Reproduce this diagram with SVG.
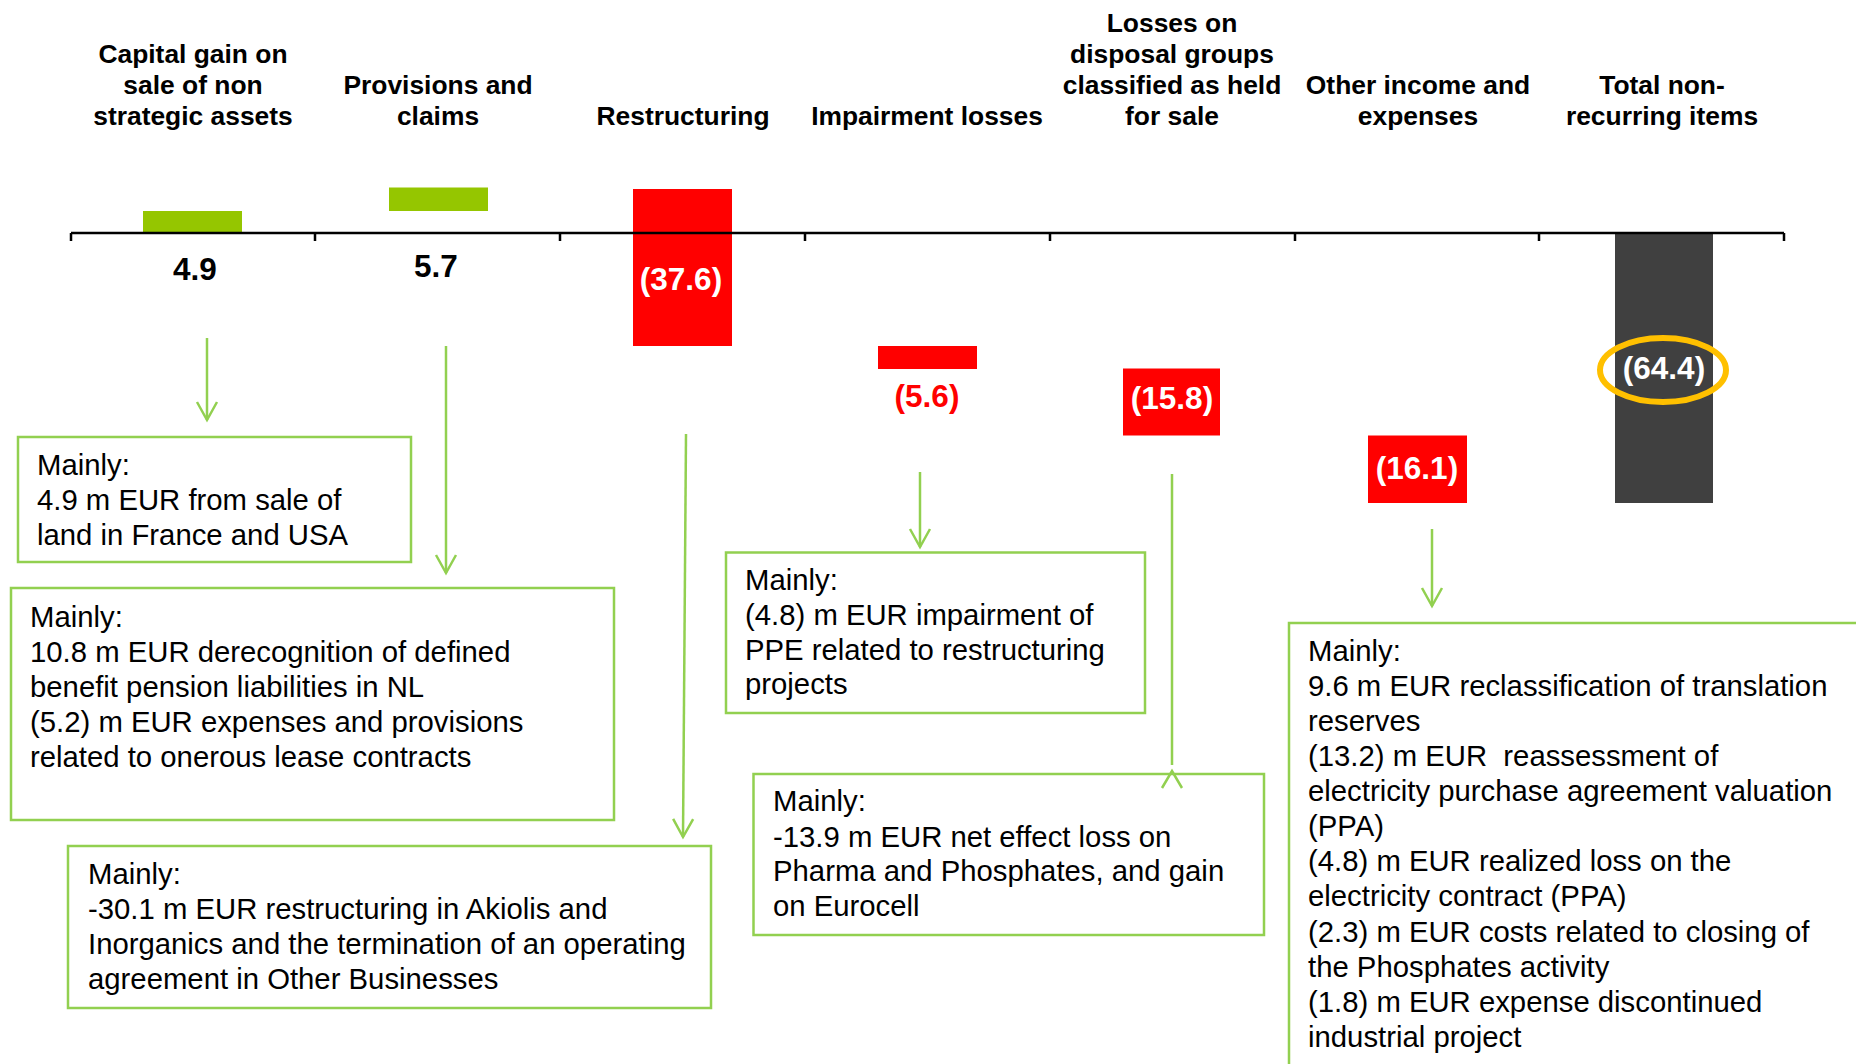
<svg xmlns="http://www.w3.org/2000/svg" width="1856" height="1064" viewBox="0 0 1856 1064">
<style>
.hd{font-family:"Liberation Sans",Arial,sans-serif;font-weight:bold;font-size:26.4px;fill:#000;text-anchor:middle}
.val{font-family:"Liberation Sans",Arial,sans-serif;font-weight:bold;font-size:31.5px;text-anchor:middle}
.bx{fill:#fff;stroke:#92D050;stroke-width:2.5}
.tx{font-family:"Liberation Sans",Arial,sans-serif;font-size:29.3px;fill:#000;white-space:pre}
.ar{fill:none;stroke:#92D050;stroke-width:2.5}
.pos{fill:#95C600}
.neg{fill:#FF0000}
.tot{fill:#404040}
</style>
<defs>
<marker id="ah" markerWidth="24" markerHeight="24" refX="20" refY="12" orient="auto" markerUnits="userSpaceOnUse" viewBox="0 0 24 24">
<polyline points="2,2 20,12 2,22" fill="none" stroke="#92D050" stroke-width="2.5"/>
</marker>
</defs>

<g id="headers">
<text class="hd" x="193" y="63">Capital gain on</text>
<text class="hd" x="193" y="94">sale of non</text>
<text class="hd" x="193" y="125">strategic assets</text>
<text class="hd" x="438" y="94">Provisions and</text>
<text class="hd" x="438" y="125">claims</text>
<text class="hd" x="683" y="125">Restructuring</text>
<text class="hd" x="927" y="125">Impairment losses</text>
<text class="hd" x="1172" y="32">Losses on</text>
<text class="hd" x="1172" y="63">disposal groups</text>
<text class="hd" x="1172" y="94">classified as held</text>
<text class="hd" x="1172" y="125">for sale</text>
<text class="hd" x="1418" y="94">Other income and</text>
<text class="hd" x="1418" y="125">expenses</text>
<text class="hd" x="1662" y="94">Total non-</text>
<text class="hd" x="1662" y="125">recurring items</text>
</g>

<g id="bars">
<rect id="bar-capital-gain" class="pos" x="143" y="211" width="99" height="21"/>
<rect id="bar-provisions" class="pos" x="389" y="187.5" width="99" height="23.5"/>
<rect id="bar-restructuring" class="neg" x="633" y="189" width="99" height="157"/>
<rect id="bar-impairment" class="neg" x="878" y="346" width="99" height="23"/>
<rect id="bar-losses" class="neg" x="1123" y="368.5" width="97" height="67"/>
<rect id="bar-other" class="neg" x="1368" y="435.5" width="99" height="67.5"/>
<rect id="bar-total" class="tot" x="1615" y="232" width="98" height="271"/>
</g>

<g id="axis" stroke="#000" stroke-width="2.5" fill="none">
<line x1="71" y1="233" x2="1784" y2="233"/>
<path d="M71 233v8M315 233v8M560 233v8M805 233v8M1050 233v8M1295 233v8M1539 233v8M1784 233v8"/>
</g>

<g id="values">
<text class="val" x="195" y="280" fill="#000">4.9</text>
<text class="val" x="436" y="277" fill="#000">5.7</text>
<text class="val" x="681" y="290" fill="#fff">(37.6)</text>
<text class="val" x="927" y="407" fill="#FF0000">(5.6)</text>
<text class="val" x="1172" y="409" fill="#fff">(15.8)</text>
<text class="val" x="1417" y="479" fill="#fff">(16.1)</text>
<text class="val" x="1664" y="379" fill="#fff">(64.4)</text>
<ellipse cx="1663" cy="370" rx="63" ry="32" fill="none" stroke="#FFC000" stroke-width="6"/>
</g>

<g id="box-capital-gain">
<rect class="bx" x="18" y="437" width="393" height="125"/>
<text class="tx" x="37" y="475">Mainly:</text>
<text class="tx" x="37" y="510">4.9 m EUR from sale of</text>
<text class="tx" x="37" y="545">land in France and USA</text>
</g>

<g id="box-provisions">
<rect class="bx" x="11" y="588" width="603" height="232"/>
<text class="tx" x="30" y="627">Mainly:</text>
<text class="tx" x="30" y="662">10.8 m EUR derecognition of defined</text>
<text class="tx" x="30" y="697">benefit pension liabilities in NL</text>
<text class="tx" x="30" y="732">(5.2) m EUR expenses and provisions</text>
<text class="tx" x="30" y="767">related to onerous lease contracts</text>
</g>

<g id="box-restructuring">
<rect class="bx" x="68" y="846" width="643" height="162"/>
<text class="tx" x="88" y="884">Mainly:</text>
<text class="tx" x="88" y="919">-30.1 m EUR restructuring in Akiolis and</text>
<text class="tx" x="88" y="954">Inorganics and the termination of an operating</text>
<text class="tx" x="88" y="989">agreement in Other Businesses</text>
</g>

<g id="box-impairment">
<rect class="bx" x="726" y="552.5" width="419" height="160.5"/>
<text class="tx" x="745" y="590">Mainly:</text>
<text class="tx" x="745" y="625">(4.8) m EUR impairment of</text>
<text class="tx" x="745" y="660">PPE related to restructuring</text>
<text class="tx" x="745" y="694">projects</text>
</g>

<g id="box-losses">
<rect class="bx" x="753.5" y="774" width="510.5" height="161"/>
<text class="tx" x="773" y="811">Mainly:</text>
<text class="tx" x="773" y="847">-13.9 m EUR net effect loss on</text>
<text class="tx" x="773" y="881">Pharma and Phosphates, and gain</text>
<text class="tx" x="773" y="916">on Eurocell</text>
</g>

<g id="box-other">
<rect class="bx" x="1289" y="623" width="600" height="460"/>
<text class="tx" x="1308" y="661">Mainly:</text>
<text class="tx" x="1308" y="696">9.6 m EUR reclassification of translation</text>
<text class="tx" x="1308" y="731">reserves</text>
<text class="tx" x="1308" y="766">(13.2) m EUR  reassessment of</text>
<text class="tx" x="1308" y="801">electricity purchase agreement valuation</text>
<text class="tx" x="1308" y="836">(PPA)</text>
<text class="tx" x="1308" y="871">(4.8) m EUR realized loss on the</text>
<text class="tx" x="1308" y="906">electricity contract (PPA)</text>
<text class="tx" x="1308" y="942">(2.3) m EUR costs related to closing of</text>
<text class="tx" x="1308" y="977">the Phosphates activity</text>
<text class="tx" x="1308" y="1012">(1.8) m EUR expense discontinued</text>
<text class="tx" x="1308" y="1047">industrial project</text>
</g>

<g id="connectors">
<line class="ar" x1="207" y1="338" x2="207" y2="420" marker-end="url(#ah)"/>
<line class="ar" x1="446" y1="346" x2="446" y2="573" marker-end="url(#ah)"/>
<line class="ar" x1="686" y1="434" x2="683" y2="837" marker-end="url(#ah)"/>
<line class="ar" x1="920" y1="472" x2="920" y2="547" marker-end="url(#ah)"/>
<line class="ar" x1="1172" y1="474" x2="1172" y2="765"/>
<polyline class="ar" points="1162,788 1172,771 1182,788"/>
<line class="ar" x1="1432" y1="529" x2="1432" y2="606" marker-end="url(#ah)"/>
</g>
</svg>
